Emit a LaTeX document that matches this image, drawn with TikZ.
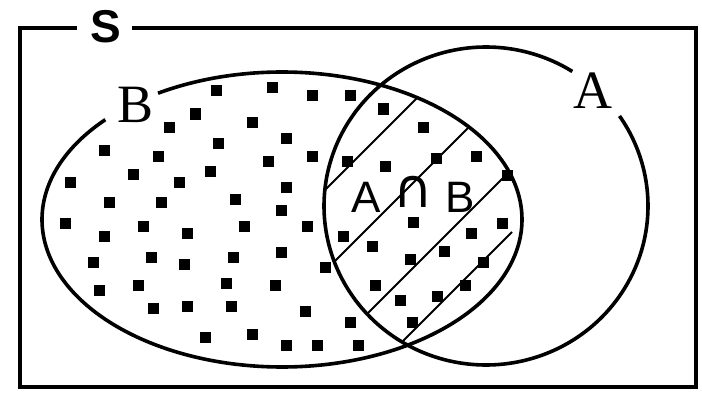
\documentclass[tikz,border=0pt]{standalone}
\usepackage{fontspec}
\setmainfont{Liberation Serif}
\newfontfamily\lsans{Liberation Sans}
\newfontfamily\dvsans{DejaVu Sans}
\begin{document}
\begin{tikzpicture}[x=1pt,y=-1pt,
  outline/.style={line width=3.6pt},
  hatch/.style={line width=1.8pt},
  serifbig/.style={inner sep=0pt,font=\fontsize{54}{54}\selectfont},
  sansbig/.style={inner sep=0pt,font=\lsans\fontsize{44}{44}\selectfont},
  titlelab/.style={inner sep=0pt,font=\lsans\bfseries\fontsize{46}{46}\selectfont}]
\useasboundingbox (0,0) rectangle (702,396);
\fill[white] (0,0) rectangle (702,396);
% frame
\draw[outline] (77,28) -- (20,28) -- (20,387) -- (696,387) -- (696,28) -- (132,28);
\node[titlelab] (S) at (106,27) {S};
% dots
\foreach \x/\y in {216/91,272/88,312/96,350/96,
  195/114,169/127,252/122,286/138,218/143,383/109,
  104/150,158/156,268/161,312/156,347/161,385/166,423/127,436/158,476/156,507/175,
  210/171,133/174,179/182,70/182,286/187,
  109/202,161/202,235/199,281/210,
  65/223,143/226,187/233,244/226,307/226,413/222,471/233,502/223,
  104/236,343/236,
  93/262,151/257,184/264,233/257,281/252,372/246,410/259,444/251,483/262,325/267,
  99/290,138/285,226/283,275/285,375/285,465/285,
  153/308,187/306,231/306,305/311,400/300,437/296,
  350/322,412/322,
  205/337,252/334,286/345,317/345,358/345}
  \fill (\x-5.5,\y-5.5) rectangle ++(11,11);
% hatching of the intersection
\begin{scope}
  \clip (282,219.5) ellipse [x radius=240, y radius=147.5];
  \clip (486,206) ellipse [x radius=162, y radius=159];
  \foreach \c in {515,596,681}
    \draw[hatch] (250,\c-250) -- (600,\c-600);
  \draw[hatch] (380,364) -- (512,232);
\end{scope}
% set B (ellipse) with gap for label
\draw[outline] plot[domain=238.9:582.6, samples=300, smooth]
  ({282+240*cos(\x)},{219.5+147.5*sin(\x)});
% set A (circle) with gap for label
\draw[outline] plot[domain=325.5:662.2, samples=300, smooth]
  ({486+162*cos(\x)},{206+159*sin(\x)});
% labels
\node[serifbig] (labelB) at (136,105) {B};
\node[serifbig] (labelA) at (593,91) {A};
\node[sansbig] (capA) at (366,197) {A};
\node[inner sep=0pt,font=\dvsans\fontsize{54}{54}\selectfont] (capsym) at (413,192) {∩};
\node[sansbig] (capB) at (460,197) {B};
\end{tikzpicture}
\end{document}
